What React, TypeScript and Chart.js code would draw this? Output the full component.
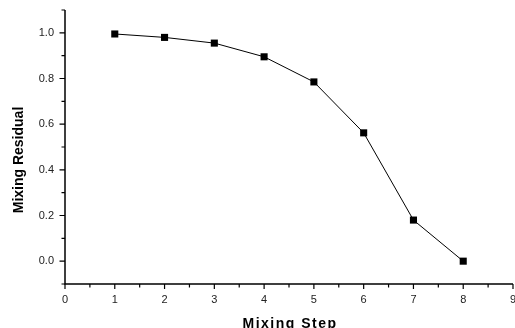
import React, { useEffect, useRef } from "react";
import { Chart, registerables } from "chart.js";

Chart.register(...registerables);

const steps = [1, 2, 3, 4, 5, 6, 7, 8];
const residuals = [0.995, 0.98, 0.955, 0.895, 0.785, 0.562, 0.18, 0.0];
const xTicks = [0, 1, 2, 3, 4, 5, 6, 7, 8, 9];
const yTicks = [0.0, 0.2, 0.4, 0.6, 0.8, 1.0];
const xTitle = "Mixing Step";
const yTitle = "Mixing Residual";

const axesPlugin = {
  id: "originAxes",
  afterDraw(chart: any) {
    const ctx = chart.ctx;
    const xs = chart.scales.x;
    const ys = chart.scales.y;
    const { left, right, top, bottom } = chart.chartArea;
    ctx.save();
    ctx.strokeStyle = "#000";
    ctx.lineWidth = 1.5;
    ctx.beginPath();
    ctx.moveTo(left, top);
    ctx.lineTo(left, bottom);
    ctx.lineTo(right, bottom);
    ctx.stroke();
    ctx.lineWidth = 1.2;
    ctx.beginPath();
    for (let v = 0; v <= 9.001; v += 0.5) {
      const px = xs.getPixelForValue(v);
      const major = Math.abs(v - Math.round(v)) < 1e-6;
      ctx.moveTo(px, bottom);
      ctx.lineTo(px, bottom + (major ? 5 : 3.5));
    }
    for (let i = 0; i <= 12; i++) {
      const v = -0.1 + i * 0.1;
      const py = ys.getPixelForValue(v);
      const major = i % 2 === 1;
      ctx.moveTo(left, py);
      ctx.lineTo(left - (major ? 5.5 : 3.5), py);
    }
    ctx.stroke();

    ctx.fillStyle = "#000";
    ctx.font = "bold 14px 'Liberation Sans', Arial, sans-serif";
    ctx.textAlign = "center";
    ctx.textBaseline = "alphabetic";
    (ctx as any).letterSpacing = "1.5px";
    ctx.fillText(xTitle, (left + right) / 2 + 1, 327.5);
    (ctx as any).letterSpacing = "0px";
    ctx.translate(22.5, 160);
    ctx.rotate(-Math.PI / 2);
    ctx.fillText(yTitle, 0, 0);
    ctx.restore();
  },
};

export default function App() {
  const ref = useRef<HTMLCanvasElement>(null);
  useEffect(() => {
    const chart = new Chart(ref.current!, {
      type: "scatter",
      data: {
        datasets: [
          {
            data: steps.map((s, i) => ({ x: s, y: residuals[i] })),
            showLine: true,
            borderColor: "#000",
            borderWidth: 1,
            backgroundColor: "#000",
            pointStyle: "rect",
            pointRadius: 5,
            pointBorderWidth: 0,
            tension: 0,
          },
        ],
      },
      options: {
        animation: false,
        responsive: false,
        events: [],
        layout: { autoPadding: false, padding: { top: 10, right: 2, left: 1, bottom: 0 } },
        plugins: { legend: { display: false }, tooltip: { enabled: false } },
        scales: {
          x: {
            type: "linear",
            min: 0,
            max: 9,
            grid: { display: false, drawTicks: false },
            border: { display: false },
            afterBuildTicks: (s: any) => {
              s.ticks = xTicks.map((v) => ({ value: v }));
            },
            ticks: {
              padding: 9,
              color: "#222",
              font: { family: "'Liberation Sans', Arial, sans-serif", size: 11 },
              maxRotation: 0,
              autoSkip: false,
              callback: (v: any) => String(v),
            },
            afterFit: (s: any) => {
              s.height = 44;
              s.paddingLeft = 0;
              s.paddingRight = 0;
            },
          },
          y: {
            type: "linear",
            min: -0.1,
            max: 1.1,
            grid: { display: false, drawTicks: false },
            border: { display: false },
            afterBuildTicks: (s: any) => {
              s.ticks = yTicks.map((v) => ({ value: v }));
            },
            ticks: {
              padding: 11,
              color: "#222",
              font: { family: "'Liberation Sans', Arial, sans-serif", size: 11 },
              autoSkip: false,
              callback: (v: any) => Number(v).toFixed(1),
            },
            afterFit: (s: any) => {
              s.width = 64;
              s.paddingTop = 0;
              s.paddingBottom = 0;
            },
          },
        },
      },
      plugins: [axesPlugin],
    });
    return () => chart.destroy();
  }, []);
  return (
    <div style={{ position: "fixed", left: 0, top: 0, width: 515, height: 328, background: "#fff" }}>
      <canvas ref={ref} width={515} height={328} style={{ width: 515, height: 328 }} />
    </div>
  );
}
